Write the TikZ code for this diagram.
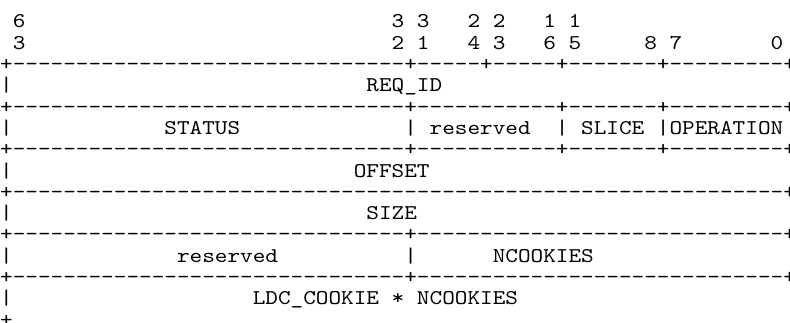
\documentclass[tikz,border=0pt]{standalone}
\usepackage{fontspec}
\newfontfamily\asciifont{lmmono10-regular.otf}[FakeStretch=1.1456]
\newcommand\dashrun[1]{\ifnum#1>0 -\expandafter\dashrun\expandafter{\the\numexpr#1-1\relax}\fi}

\begin{document}
\begin{tikzpicture}[
        x=12.63pt, y=-21.3pt,%
        cell/.style = {anchor=base west, inner sep=0pt, outer sep=0pt, font=\asciifont\fontsize{21pt}{21pt}\selectfont},%
    ]%
        \path[use as bounding box, fill=white] (-0.2pt,28pt) rectangle (789.8pt,-295pt);
        % bit numbers, tens
        \node[cell] (tens63) at (1,0) {6};
        \node[cell] (tens32) at (31,0) {3};
        \node[cell] (tens31) at (33,0) {3};
        \node[cell] (tens24) at (37,0) {2};
        \node[cell] (tens23) at (39,0) {2};
        \node[cell] (tens16) at (43,0) {1};
        \node[cell] (tens15) at (45,0) {1};
        % bit numbers, ones
        \node[cell] (ones63) at (1,1) {3};
        \node[cell] (ones32) at (31,1) {2};
        \node[cell] (ones31) at (33,1) {1};
        \node[cell] (ones24) at (37,1) {4};
        \node[cell] (ones23) at (39,1) {3};
        \node[cell] (ones16) at (43,1) {6};
        \node[cell] (ones15) at (45,1) {5};
        \node[cell] (ones8) at (51,1) {8};
        \node[cell] (ones7) at (53,1) {7};
        \node[cell] (ones0) at (61,1) {0};
        % word 0
        \node[cell] (rule2) at (0,2) {+\dashrun{31}+\dashrun{5}+\dashrun{5}+\dashrun{7}+\dashrun{9}+};
        \node[cell] (bar3) at (0,3) {|};
        \node[cell] (reqid) at (29,3) {REQ\_ID};
        % word 1
        \node[cell] (rule4) at (0,4) {+\dashrun{31}+\dashrun{11}+\dashrun{7}+\dashrun{9}+};
        \node[cell] (bar5) at (0,5) {|};
        \node[cell] (status) at (13,5) {STATUS};
        \node[cell] (bar5a) at (32,5) {|};
        \node[cell] (rsvd5) at (34,5) {reserved};
        \node[cell] (bar5b) at (44,5) {|};
        \node[cell] (slice) at (46,5) {SLICE};
        \node[cell] (bar5c) at (52,5) {|};
        \node[cell] (operation) at (53,5) {OPERATION};
        % word 2
        \node[cell] (rule6) at (0,6) {+\dashrun{31}+\dashrun{11}+\dashrun{7}+\dashrun{9}+};
        \node[cell] (bar7) at (0,7) {|};
        \node[cell] (offset) at (28,7) {OFFSET};
        % word 3
        \node[cell] (rule8) at (0,8) {+\dashrun{61}+};
        \node[cell] (bar9) at (0,9) {|};
        \node[cell] (size) at (29,9) {SIZE};
        % word 4
        \node[cell] (rule10) at (0,10) {+\dashrun{31}+\dashrun{29}+};
        \node[cell] (bar11) at (0,11) {|};
        \node[cell] (rsvd11) at (14,11) {reserved};
        \node[cell] (bar11a) at (32,11) {|};
        \node[cell] (ncookies) at (39,11) {NCOOKIES};
        % cookies
        \node[cell] (rule12) at (0,12) {+\dashrun{31}+\dashrun{29}+};
        \node[cell] (bar13) at (0,13) {|};
        \node[cell] (ldccookie) at (20,13) {LDC\_COOKIE};
        \node[cell] (times) at (31,13) {*};
        \node[cell] (ncount) at (33,13) {NCOOKIES};
        \node[cell] (rule14) at (0,14) {+};
    \end{tikzpicture}
\end{document}
